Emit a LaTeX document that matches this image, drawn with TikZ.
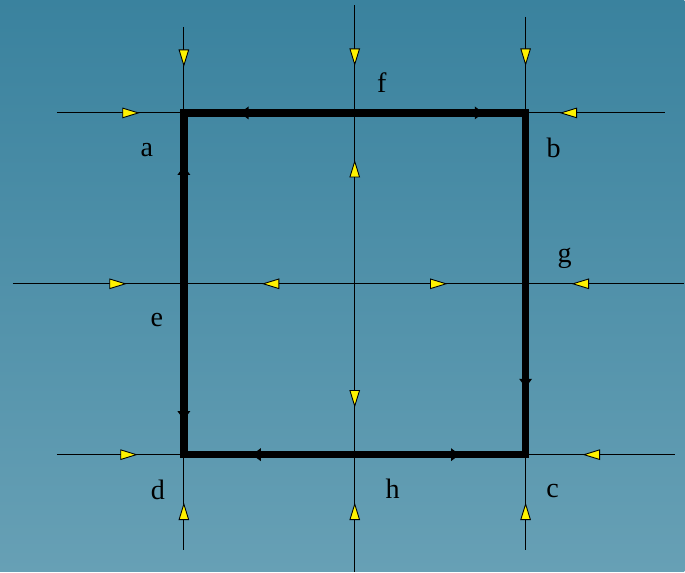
\documentclass[tikz,border=0pt]{standalone}
\usepackage{fontspec}
\setmainfont{Liberation Serif}
\usetikzlibrary{arrows.meta,decorations.markings}

\definecolor{bgtop}{RGB}{58,130,158}
\definecolor{bgbot}{RGB}{103,160,181}

\tikzset{
  yt/.tip={Triangle[length=10pt,width=6pt,fill=yellow,color=black,line width=0.5pt]},
  bt/.tip={Triangle[length=5pt,width=7pt,color=black]},
  yf/.style={decoration={markings,mark=at position #1 with {\arrow{yt}}}},
  yb/.style={decoration={markings,mark=at position #1 with {\arrowreversed{yt}}}},
  bf/.style={decoration={markings,mark=at position #1 with {\arrow{bt}}}},
  bb/.style={decoration={markings,mark=at position #1 with {\arrowreversed{bt}}}},
  wire/.style={draw=black,line width=0.6pt,postaction={decorate}},
  ring/.style={draw=black,line width=4.3pt,line join=miter,postaction={decorate}},
  lbl/.style={font=\fontsize{16}{18}\selectfont,inner sep=0pt}
}

\begin{document}
\begin{tikzpicture}[x=0.02cm, y=-0.02cm]
  \shade[top color=bgtop,bottom color=bgbot] (0,0) rectangle (685,572);
  % Nodes
  \coordinate (A) at (184,113);
  \coordinate (B) at (526,113);
  \coordinate (C) at (526,455);
  \coordinate (D) at (184,455);
  \coordinate (w1) at (57,113);  \coordinate (e1) at (665,113);
  \coordinate (w2) at (13,284);  \coordinate (e2) at (685,284);
  \coordinate (w3) at (57,455);  \coordinate (e3) at (676,455);
  \coordinate (n1) at (184,27);  \coordinate (s1) at (184,550);
  \coordinate (n2) at (355,5);   \coordinate (s2) at (355,572);
  \coordinate (n3) at (526,17);  \coordinate (s3) at (526,550);
  \node[lbl] (la) at (147,150) {a};
  \node[lbl] (lb) at (554,148) {b};
  \node[lbl] (lc) at (553,491) {c};
  \node[lbl] (ld) at (158,490) {d};
  \node[lbl] (le) at (157,320) {e};
  \node[lbl] (lf) at (382,83) {f};
  \node[lbl] (lg) at (565,259) {g};
  \node[lbl] (lh) at (393,489) {h};
  % Edges
  \draw[wire,yf=1.66cm,yb=10.06cm] (w1) -- (e1);
  \draw[wire,yf=2.28cm,yb=4.98cm,yf=8.70cm,yb=11.18cm] (w2) -- (e2);
  \draw[wire,yf=1.62cm,yb=10.52cm] (w3) -- (e3);
  \draw[wire,yf=0.80cm,yb=9.52cm] (n1) -- (s1);
  \draw[wire,yf=1.22cm,yb=3.10cm,yf=8.06cm,yb=9.96cm] (n2) -- (s2);
  \draw[wire,yf=0.98cm,yb=9.72cm] (n3) -- (s3);

  % Loop
  \draw[ring,bb=1.12cm,bf=6.0cm,bf=12.34cm,bb=15.0cm,bf=19.16cm,bb=21.22cm,bf=26.30cm]
    (A) -- (B) -- (C) -- (D) -- cycle;
\end{tikzpicture}
\end{document}
